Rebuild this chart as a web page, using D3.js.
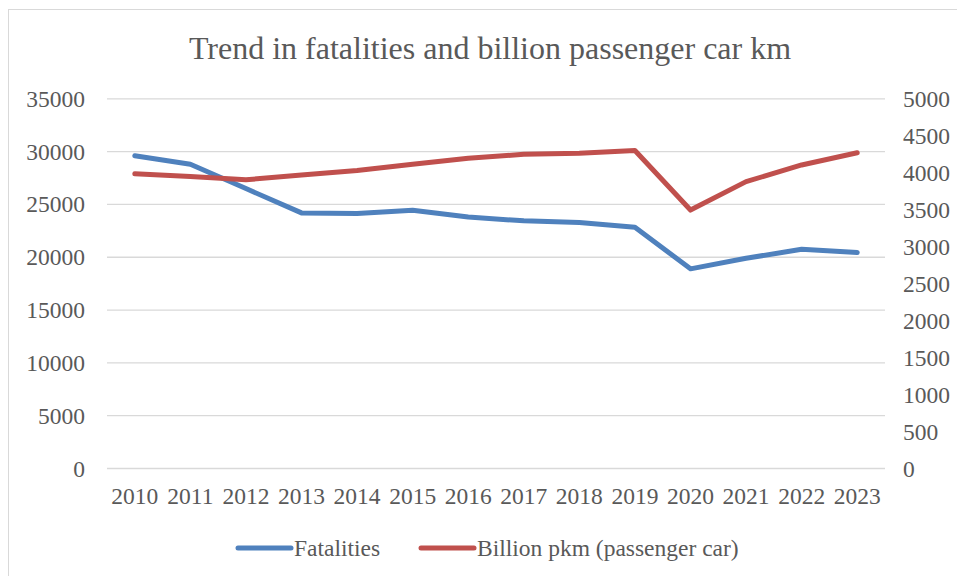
<!DOCTYPE html>
<html>
  <head>
    <meta charset="utf-8">
    <title>Trend in fatalities and billion passenger car km</title>
    <script src="https://d3js.org/d3.v7.min.js"></script>
    <style>
      body { margin: 0; background: #fff; }
      text { font-family: "Liberation Serif", "Times New Roman", serif; fill: #595959; }
    </style>
  </head>
  <body>
    <svg width="957" height="576"></svg>
    <script>
      // chart data
      var years = ["2010","2011","2012","2013","2014","2015","2016","2017","2018","2019","2020","2021","2022","2023"];
      var fatalities = [29600, 28800, 26500, 24200, 24150, 24450, 23800, 23450, 23300, 22850, 18900, 19900, 20750, 20450];
      var pkm = [3985, 3950, 3905, 3970, 4030, 4115, 4195, 4250, 4265, 4300, 3495, 3880, 4105, 4270];
      var leftTicks = [0, 5000, 10000, 15000, 20000, 25000, 30000, 35000];
      var rightTicks = [0, 500, 1000, 1500, 2000, 2500, 3000, 3500, 4000, 4500, 5000];
      var seriesNames = ["Fatalities", "Billion pkm (passenger car)"];
      var colors = ["#4f81bd", "#c0504d"];

      var svg = d3.select("svg");

      // plot area
      var plotLeft = 107, plotRight = 885, plotTop = 98.8, plotBottom = 468.5;

      // outer border of the chart area
      svg.append("rect")
          .attr("x", 8.5).attr("y", 9.5)
          .attr("width", 960).attr("height", 580)
          .attr("fill", "none")
          .attr("stroke", "#d9d9d9");

      var x = d3.scaleBand().domain(years).range([plotLeft, plotRight]);
      var yL = d3.scaleLinear().domain([0, 35000]).range([plotBottom, plotTop]);
      var yR = d3.scaleLinear().domain([0, 5000]).range([plotBottom, plotTop]);

      // gridlines
      svg.append("g")
          .selectAll("line")
          .data(leftTicks)
          .enter().append("line")
          .attr("x1", plotLeft).attr("x2", plotRight)
          .attr("y1", function(d) { return yL(d); })
          .attr("y2", function(d) { return yL(d); })
          .attr("stroke", "#d9d9d9")
          .attr("stroke-width", 1.3);

      // left axis labels
      var leftAxis = svg.append("g")
          .attr("transform", "translate(" + (plotLeft - 22) + ",0)")
          .call(d3.axisLeft(yL).tickValues(leftTicks).tickFormat(d3.format("d")).tickSize(0).tickPadding(0));
      leftAxis.select(".domain").remove();

      // right axis labels
      var rightAxis = svg.append("g")
          .attr("transform", "translate(" + (plotRight + 18) + ",0)")
          .call(d3.axisRight(yR).tickValues(rightTicks).tickFormat(d3.format("d")).tickSize(0).tickPadding(0));
      rightAxis.select(".domain").remove();

      // bottom axis labels
      var bottomAxis = svg.append("g")
          .attr("transform", "translate(0," + (plotBottom + 19) + ")")
          .call(d3.axisBottom(x).tickSize(0).tickPadding(0));
      bottomAxis.select(".domain").remove();

      svg.selectAll(".tick text")
          .attr("font-family", "Liberation Serif, Times New Roman, serif")
          .attr("font-size", 23.5)
          .attr("fill", "#595959");

      // lines
      var lineL = d3.line()
          .x(function(d, i) { return x(years[i]) + x.bandwidth() / 2; })
          .y(function(d) { return yL(d); });
      var lineR = d3.line()
          .x(function(d, i) { return x(years[i]) + x.bandwidth() / 2; })
          .y(function(d) { return yR(d); });

      svg.append("path")
          .attr("d", lineL(fatalities))
          .attr("fill", "none")
          .attr("stroke", colors[0])
          .attr("stroke-width", 5)
          .attr("stroke-linecap", "round")
          .attr("stroke-linejoin", "round");

      svg.append("path")
          .attr("d", lineR(pkm))
          .attr("fill", "none")
          .attr("stroke", colors[1])
          .attr("stroke-width", 5)
          .attr("stroke-linecap", "round")
          .attr("stroke-linejoin", "round");

      // title
      svg.append("text")
          .attr("x", 490).attr("y", 59)
          .attr("text-anchor", "middle")
          .attr("font-size", 32)
          .text("Trend in fatalities and billion passenger car km");

      // legend
      var legendX = [238, 421];
      var legend = svg.append("g")
          .selectAll("g")
          .data(seriesNames)
          .enter().append("g")
          .attr("transform", function(d, i) { return "translate(" + legendX[i] + ",548)"; });
      legend.append("line")
          .attr("x1", 0).attr("x2", 53)
          .attr("y1", 0).attr("y2", 0)
          .attr("stroke", function(d, i) { return colors[i]; })
          .attr("stroke-width", 5)
          .attr("stroke-linecap", "round");
      legend.append("text")
          .attr("x", 56).attr("y", 8)
          .attr("font-size", 23.5)
          .text(function(d) { return d; });
    </script>
  </body>
</html>
